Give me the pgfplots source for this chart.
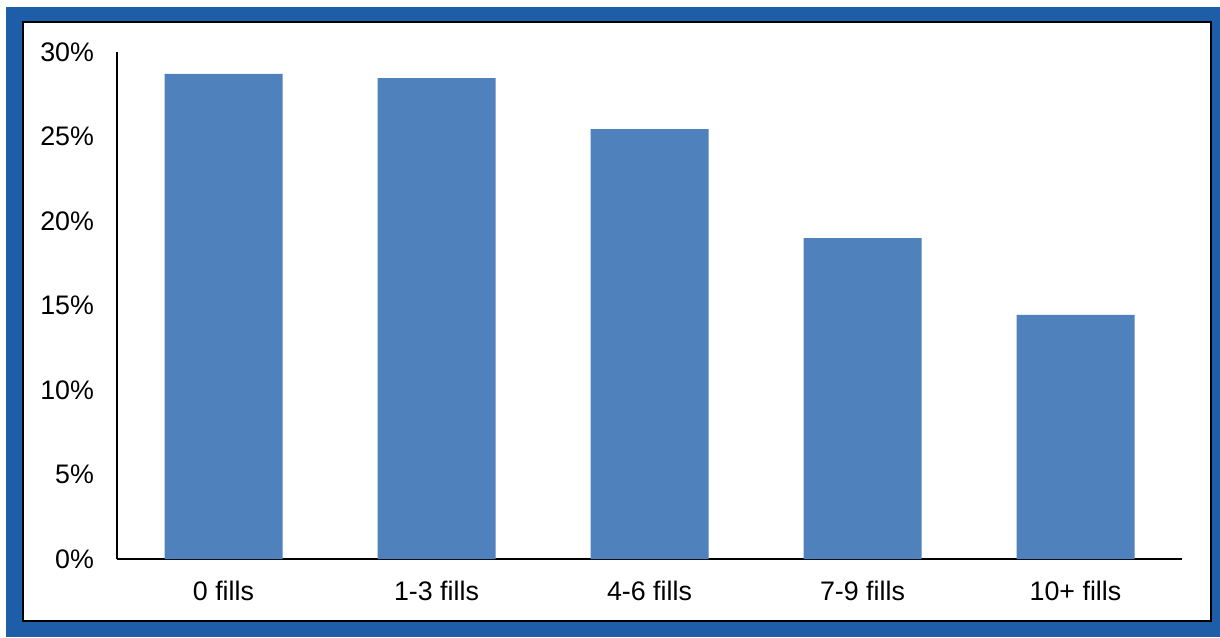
\documentclass[border=0pt]{standalone}
\usepackage{pgfplots}
\pgfplotsset{compat=1.18}
\usepackage{fontspec}
\setmainfont{Liberation Sans}
\definecolor{frameblue}{RGB}{30,94,168}
\definecolor{barblue}{RGB}{79,129,189}
\begin{document}
\begin{tikzpicture}[x=1pt,y=1pt]
\useasboundingbox (0,0) rectangle (610,318.5);
\fill[white] (0,0) rectangle (610,318.5);
\fill[frameblue] (3,0) rectangle (610,315);
\draw[black,line width=1.2pt,fill=white] (11.5,8) rectangle (605.5,307.5);
\begin{axis}[
  at={(58.5pt,39pt)}, anchor=south west,
  scale only axis, width=532.5pt, height=253.5pt,
  xmin=-0.5, xmax=4.5, ymin=0, ymax=30,
  axis x line=bottom, axis y line=left,
  axis line style={-, line width=0.9pt, black},
  ytick={0,5,10,15,20,25,30},
  yticklabels={0\%,5\%,10\%,15\%,20\%,25\%,30\%},
  xtick={0,1,2,3,4},
  xticklabels={0 fills,1-3 fills,4-6 fills,7-9 fills,10+ fills},
  major tick length=0pt,
  tick label style={font=\fontsize{13.4}{16}\selectfont, text=black},
  yticklabel style={xshift=-8pt},
  xticklabel style={yshift=-7.5pt},
  /pgf/number format/assume math mode=true,
]
\addplot[ybar, bar width=59pt, fill=barblue, draw=none] coordinates {
  (0,28.7) (1,28.46) (2,25.44) (3,18.99) (4,14.44)
};
\end{axis}
\end{tikzpicture}
\end{document}
